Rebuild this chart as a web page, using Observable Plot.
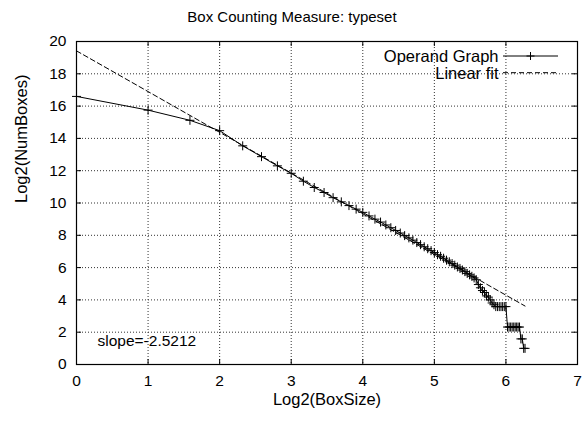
<!DOCTYPE html>
<html><head><meta charset="utf-8">
<script src="https://cdn.jsdelivr.net/npm/d3@7"></script>
<script src="https://cdn.jsdelivr.net/npm/@observablehq/plot@0.6"></script>
<style>
body{margin:0;background:#fff;font-family:"Liberation Sans",Arial,sans-serif;}
#title{width:584px;height:33px;line-height:33px;text-align:center;font-size:15px;color:#000;}
</style></head><body>
<div id="title">Box Counting Measure: typeset</div>
<div id="chart"></div>
<script>
// Log2(BoxSize) for box sizes 1..77
const log2BoxSize = [0, 1, 1.585, 2, 2.322, 2.585, 2.807, 3, 3.170, 3.322,
  3.459, 3.585, 3.700, 3.807, 3.907, 4, 4.087, 4.170, 4.248, 4.322,
  4.392, 4.459, 4.524, 4.585, 4.644, 4.700, 4.755, 4.807, 4.858, 4.907,
  4.954, 5, 5.044, 5.087, 5.129, 5.170, 5.209, 5.248, 5.285, 5.322,
  5.358, 5.392, 5.426, 5.459, 5.492, 5.524, 5.555, 5.585, 5.615, 5.644,
  5.672, 5.700, 5.728, 5.755, 5.781, 5.807, 5.833, 5.858, 5.883, 5.907,
  5.931, 5.954, 5.977, 6, 6.022, 6.044, 6.066, 6.087, 6.109, 6.129,
  6.150, 6.170, 6.190, 6.209, 6.229, 6.248, 6.267];
// Log2(NumBoxes) (Operand Graph)
const log2NumBoxes = [16.6, 15.75, 15.12, 14.48, 13.54, 12.87, 12.30, 11.84, 11.35, 10.96,
  10.65, 10.33, 10.07, 9.84, 9.62, 9.42, 9.20, 9.00, 8.82, 8.64,
  8.47, 8.30, 8.14, 7.98, 7.84, 7.70, 7.55, 7.42, 7.29, 7.17,
  7.05, 6.93, 6.80, 6.70, 6.58, 6.46, 6.36, 6.25, 6.15, 6.04,
  5.95, 5.85, 5.75, 5.64, 5.55, 5.46, 5.36, 5.25, 4.95, 4.75,
  4.58, 4.46, 4.25, 4.17, 4.00, 3.81, 3.70, 3.585, 3.585, 3.585,
  3.585, 3.585, 3.585, 3.585, 2.32, 2.32, 2.32, 2.32, 2.32, 2.32,
  2.32, 2.32, 2.32, 1.585, 1.585, 1.0, 1.0];
// Linear fit end points
const fitX = [0, 6.267];
const fitY = [19.42, 3.62];
const slopeLabel = "slope=-2.5212";
const seriesNames = ["Operand Graph", "Linear fit"];
const xTicks = [0, 1, 2, 3, 4, 5, 6, 7];
const yTicks = [0, 2, 4, 6, 8, 10, 12, 14, 16, 18, 20];
const xGrid = [1, 2, 3, 4, 5, 6];
const yGrid = [2, 4, 6, 8, 10, 12, 14, 16, 18];

const pts = log2BoxSize.map((x, i) => ({x, y: log2NumBoxes[i]}));
const fit = fitX.map((x, i) => ({x, y: fitY[i]}));

const plusSym = {draw(ctx, size) {
  const r = Math.sqrt(size / Math.PI);
  ctx.moveTo(-r, 0); ctx.lineTo(r, 0);
  ctx.moveTo(0, -r); ctx.lineTo(0, r);
}};

const W = 584, H = 389, mt = 8, mb = 58, ml = 76, mr = 7;
const fh = H - mt - mb, fw = W - ml - mr;
const FONT = "Liberation Sans, Arial, sans-serif";

const plot = Plot.plot({
  width: W, height: H,
  marginTop: mt, marginBottom: mb, marginLeft: ml, marginRight: mr,
  style: {fontFamily: FONT, fontSize: "15.5px", color: "#000", background: "#fff", overflow: "visible"},
  x: {domain: [0, 7], ticks: xTicks, tickFormat: d => String(d), tickSize: 0, tickPadding: 10, label: null},
  y: {domain: [0, 20], ticks: yTicks, tickFormat: d => String(d), tickSize: 0, tickPadding: 10, label: null},
  marks: [
    Plot.ruleX(xGrid, {x: d => d, stroke: "#333", strokeDasharray: "1,2"}),
    Plot.ruleY(yGrid, {y: d => d, stroke: "#333", strokeDasharray: "1,2"}),
    Plot.ruleX(xTicks, {x: d => d, insetTop: fh - 5, stroke: "#000"}),
    Plot.ruleX(xTicks, {x: d => d, insetBottom: fh - 5, stroke: "#000"}),
    Plot.ruleY(yTicks, {y: d => d, insetRight: fw - 5, stroke: "#000"}),
    Plot.ruleY(yTicks, {y: d => d, insetLeft: fw - 5, stroke: "#000"}),
    Plot.line(fit, {x: "x", y: "y", stroke: "#000", strokeWidth: 1, strokeDasharray: "5,3"}),
    Plot.line(pts, {x: "x", y: "y", stroke: "#000", strokeWidth: 1}),
    Plot.dot(pts, {x: "x", y: "y", symbol: plusSym, r: 4.5, fill: "none", stroke: "#000", strokeWidth: 1}),
    Plot.frame({stroke: "#000", strokeWidth: 1.2}),
    Plot.text([slopeLabel], {text: d => d, frameAnchor: "bottom-left", lineAnchor: "middle", textAnchor: "start", dx: 21, dy: -23, fontSize: 15.5}),
    Plot.text([seriesNames[0]], {text: d => d, frameAnchor: "top-right", lineAnchor: "middle", textAnchor: "end", dx: -79, dy: 15, fontSize: 16.5}),
    Plot.text([seriesNames[1]], {text: d => d, frameAnchor: "top-right", lineAnchor: "middle", textAnchor: "end", dx: -79, dy: 32, fontSize: 16.5}),
    Plot.text(["Log2(BoxSize)"], {text: d => d, frameAnchor: "bottom", lineAnchor: "middle", dy: 35, fontSize: 16.5}),
    Plot.text(["Log2(NumBoxes)"], {text: d => d, frameAnchor: "left", lineAnchor: "middle", dx: -55, rotate: -90, fontSize: 16.5})
  ]
});
document.getElementById("chart").appendChild(plot);

// legend samples
const svg = d3.select(plot);
const g = svg.append("g").attr("stroke", "#000").attr("fill", "none");
const lx1 = 503, lx2 = 558, ly1 = 56 - 33, ly2 = 72.7 - 33;
g.append("line").attr("x1", lx1).attr("x2", lx2).attr("y1", ly1).attr("y2", ly1);
g.append("path").attr("d", `M${(lx1+lx2)/2-4},${ly1}h8M${(lx1+lx2)/2},${ly1-4}v8`);
g.append("line").attr("x1", lx1).attr("x2", lx2).attr("y1", ly2).attr("y2", ly2).attr("stroke-dasharray", "5,3");
</script>
</body></html>
